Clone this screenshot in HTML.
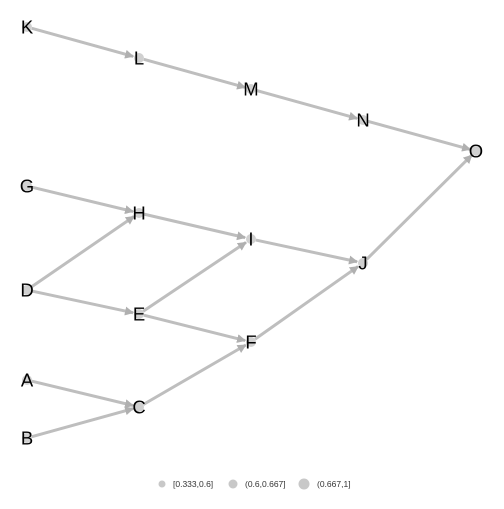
<!DOCTYPE html>
<html><head><meta charset="utf-8"><style>
html,body{margin:0;padding:0;background:#fff;}
svg text{font-family:"Liberation Sans",sans-serif;}
</style></head><body>
<svg id="chart" width="504" height="504" xmlns="http://www.w3.org/2000/svg">
<defs><marker id="arr" viewBox="0 0 10 10" refX="9" refY="5" markerWidth="3" markerHeight="3" orient="auto"><path d="M0,0L10,5L0,10z" fill="#b0b0b0"/></marker></defs>
<g id="edges"></g>
<g id="nodes"></g>
<g font-size="8.5" fill="#333">
<circle cx="162" cy="484" r="3.5" fill="#c8c8c8"/><text x="173" y="487">[0.333,0.6]</text>
<circle cx="233" cy="484" r="4.5" fill="#c8c8c8"/><text x="245" y="487">(0.6,0.667]</text>
<circle cx="304" cy="484" r="5.5" fill="#c8c8c8"/><text x="317" y="487">(0.667,1]</text>
</g>
</svg>
<script>
const nodeNames=["K","L","M","N","O","G","H","I","J","D","E","F","A","C","B"];
const nodeX=[27,139,251,363,476,27,139,251,363,27,139,251,27,139,27];
const nodeY=[27,58,89,120,151,186,213,239,263,290,314,342,380,407,438];
const edgeFrom=["K","L","M","N","G","H","I","J","D","D","E","E","F","A","B","C"];
const edgeTo=["L","M","N","O","H","I","J","O","H","E","I","F","J","C","C","F"];
const NS="http://www.w3.org/2000/svg";
const eg=document.getElementById('edges'),ng=document.getElementById('nodes');
function pos(n){const i=nodeNames.indexOf(n);return [nodeX[i],nodeY[i]];}
for(let k=0;k<edgeFrom.length;k++){
 const [x1,y1]=pos(edgeFrom[k]),[x2,y2]=pos(edgeTo[k]);
 const dx=x2-x1,dy=y2-y1,L=Math.hypot(dx,dy),s=6;
 const l=document.createElementNS(NS,'line');
 
 
 l.setAttribute('x1',x1+dx/L*5);l.setAttribute('y1',y1+dy/L*5);
 l.setAttribute('x2',x2-dx/L*s);l.setAttribute('y2',y2-dy/L*s);
 l.setAttribute('stroke','#bebebe');l.setAttribute('stroke-width','3');
 l.setAttribute('marker-end','url(#arr)');
 eg.appendChild(l);
}
for(let i=0;i<nodeNames.length;i++){
 const c=document.createElementNS(NS,'circle');
 
 
 c.setAttribute('cx',nodeX[i]);c.setAttribute('cy',nodeY[i]);c.setAttribute('r',5);c.setAttribute('fill','#d0d0d0');
 ng.appendChild(c);
 const t=document.createElementNS(NS,'text');
 
 
 t.setAttribute('x',nodeX[i]);t.setAttribute('y',nodeY[i]+6.5);t.setAttribute('text-anchor','middle');
 t.setAttribute('font-size','18.5');t.setAttribute('fill','#000');
 t.textContent=nodeNames[i];ng.appendChild(t);
}
</script>
</body></html>
